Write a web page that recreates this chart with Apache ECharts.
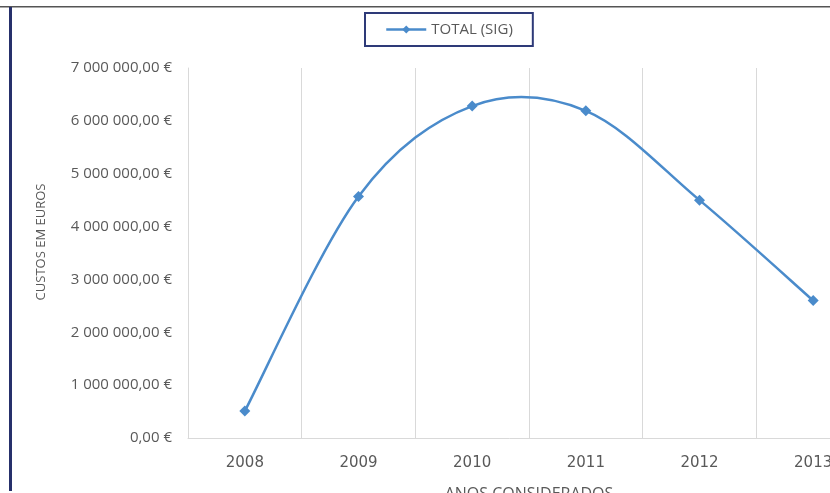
<!DOCTYPE html>
<html>
<head>
<meta charset="utf-8">
<script src="https://cdn.jsdelivr.net/npm/echarts@6/dist/echarts.min.js"></script>
<style>
  html, body { margin: 0; padding: 0; background: #fff; }
  #chart { width: 830px; height: 493px; }
</style>
</head>
<body>
<div id="chart"></div>
<script>
const years = ['2008', '2009', '2010', '2011', '2012', '2013'];
const totalSig = [510000, 4570000, 6280000, 6190000, 4500000, 2600000];
const seriesName = 'TOTAL (SIG)';
const blue = '#4a8bcb';

const chart = echarts.init(document.getElementById('chart'));

// "7 000 000,00 €" style
function euro(v) {
    const parts = v.toFixed(2).split('.');
    const int = parts[0].replace(/\B(?=(\d{3})+(?!\d))/g, ' ');
    return int + ',' + parts[1] + ' €';
}

// excel-like smoothed line: catmull-rom segment from point i to i+1
function renderSegment(params, api) {
    const i = params.dataIndex;
    if (i >= totalSig.length - 1) return null;
    const pt = (k) => {
        k = Math.max(0, Math.min(totalSig.length - 1, k));
        return api.coord([k, totalSig[k]]);
    };
    const p0 = pt(i - 1), p1 = pt(i), p2 = pt(i + 1), p3 = pt(i + 2);
    return {
        type: 'bezierCurve',
        shape: {
            x1: p1[0], y1: p1[1],
            x2: p2[0], y2: p2[1],
            cpx1: p1[0] + (p2[0] - p0[0]) / 6, cpy1: p1[1] + (p2[1] - p0[1]) / 6,
            cpx2: p2[0] - (p3[0] - p1[0]) / 6, cpy2: p2[1] - (p3[1] - p1[1]) / 6
        },
        style: { stroke: blue, lineWidth: 2.5, fill: null },
        silent: true
    };
}

chart.setOption({
    animation: false,
    backgroundColor: '#fff',
    textStyle: { fontFamily: 'Open Sans' },
    graphic: [
        { type: 'rect', shape: { x: 0, y: 6, width: 830, height: 1.5 }, style: { fill: '#555' }, silent: true },
        { type: 'rect', shape: { x: 9, y: 7, width: 3, height: 484 }, style: { fill: '#26306b' }, silent: true }
    ],
    legend: {
        left: 365,
        top: 13,
        padding: [9, 20, 9, 20],
        borderColor: '#2e3a78',
        borderWidth: 2,
        itemWidth: 40,
        itemHeight: 10,
        itemGap: 4,
        lineStyle: { color: blue, width: 2.5, opacity: 1 },
        textStyle: { color: '#595959', fontSize: 15, fontFamily: 'Open Sans' },
        data: [seriesName]
    },
    grid: { left: 188, width: 682, top: 68, bottom: 55, outerBoundsMode: 'none' },
    xAxis: {
        type: 'category',
        data: years,
        boundaryGap: true,
        name: 'ANOS CONSIDERADOS',
        nameLocation: 'middle',
        nameGap: 48,
        nameTextStyle: { color: '#595959', fontSize: 16 },
        axisLine: { lineStyle: { color: '#d9d9d9' } },
        axisTick: { show: false },
        axisLabel: { color: '#595959', fontSize: 15, fontFamily: 'DejaVu Sans', margin: 18 },
        splitLine: { show: true, lineStyle: { color: '#d9d9d9' } }
    },
    yAxis: {
        type: 'value',
        min: 0,
        max: 7000000,
        interval: 1000000,
        name: 'CUSTOS EM EUROS',
        nameLocation: 'middle',
        nameGap: 140,
        nameTextStyle: { color: '#595959', fontSize: 13, padding: [0, 0, 0, 22] },
        axisLine: { show: true, lineStyle: { color: '#d9d9d9' } },
        axisTick: { show: false },
        axisLabel: { color: '#595959', fontSize: 15, margin: 16, formatter: euro },
        splitLine: { show: false }
    },
    series: [
        {
            name: seriesName + ' curve',
            type: 'custom',
            data: totalSig,
            renderItem: renderSegment,
            z: 2
        },
        {
            name: seriesName,
            type: 'line',
            data: totalSig,
            symbol: 'diamond',
            symbolSize: 11,
            itemStyle: { color: blue },
            lineStyle: { opacity: 0 },
            z: 3
        }
    ]
});
</script>
</body>
</html>
